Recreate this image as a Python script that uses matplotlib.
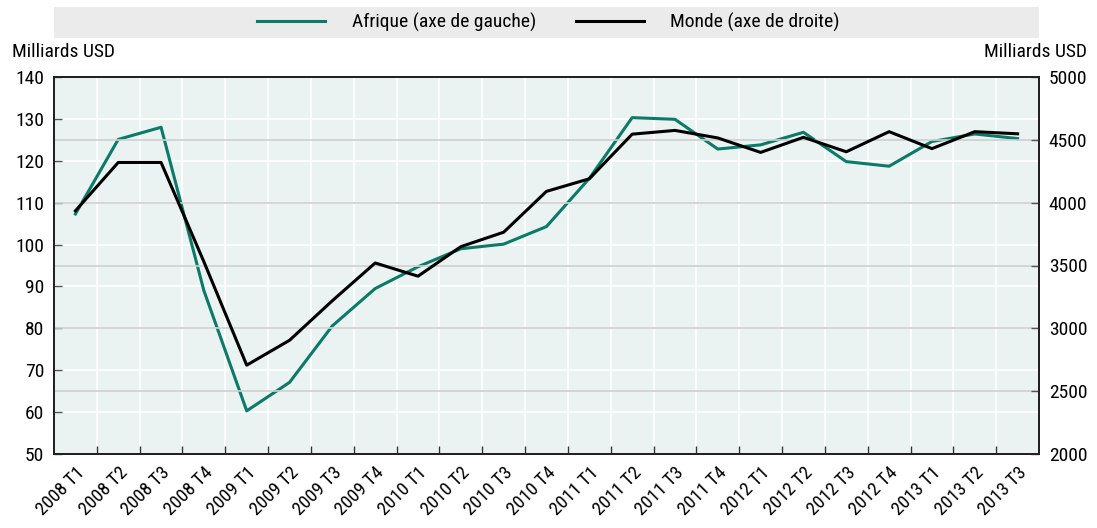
import matplotlib
matplotlib.use('Agg')
import matplotlib.pyplot as plt
from matplotlib.patches import Rectangle
import numpy as np

plt.rcParams['font.family'] = ['Liberation Sans Narrow', 'Roboto Condensed',
                               'Liberation Sans', 'DejaVu Sans']

quarters = ['2008 T1', '2008 T2', '2008 T3', '2008 T4',
            '2009 T1', '2009 T2', '2009 T3', '2009 T4',
            '2010 T1', '2010 T2', '2010 T3', '2010 T4',
            '2011 T1', '2011 T2', '2011 T3', '2011 T4',
            '2012 T1', '2012 T2', '2012 T3', '2012 T4',
            '2013 T1', '2013 T2', '2013 T3']
afrique = [107.3, 125.1, 128.0, 89.0, 60.3, 67.1, 80.6, 89.5, 94.7, 99.0, 100.1, 104.3,
           115.8, 130.3, 129.9, 122.8, 123.8, 126.8, 119.8, 118.7, 124.6, 126.4, 125.3]
monde = [3935, 4320, 4320, 3530, 2707, 2905, 3220, 3520, 3415, 3650, 3765, 4090,
         4190, 4545, 4575, 4515, 4400, 4520, 4405, 4565, 4430, 4565, 4548]

GREEN = '#0b7a68'
BG = '#eaf3f2'
W, H = 1097, 528
FS = 14

fig = plt.figure(figsize=(W / 100, H / 100), dpi=100)
ax = fig.add_axes([54 / W, 74 / H, (1039 - 54) / W, (454 - 77) / H])
ax2 = ax.twinx()
ax.set_facecolor(BG)

x = np.arange(len(quarters))
ax.set_xlim(-0.5, len(quarters) - 0.5)
ax.set_ylim(50, 140)
ax2.set_ylim(2000, 5000)
ax.set_yticks(np.arange(50, 141, 10))
ax2.set_yticks(np.arange(2000, 5001, 500))

# grids: white for left axis, grey for right axis, white verticals between quarters
for v in np.arange(60, 140, 10):
    ax.axhline(v, color='white', lw=1.2, zorder=0.5)
for v in np.arange(2500, 5000, 500):
    ax2.axhline(v, color='#cfcfcf', lw=1.2, zorder=0.6)
for b in np.arange(0.5, len(quarters) - 0.5, 1):
    ax.axvline(b, color='white', lw=1.2, zorder=0.5)

ax.plot(x, afrique, color=GREEN, lw=2.2, zorder=3, label='Afrique (axe de gauche)')
ax2.plot(x, monde, color='black', lw=2.2, zorder=3, label='Monde (axe de droite)')

ax.set_xticks(np.arange(0.5, len(quarters) - 0.5, 1), minor=False)
ax.set_xticklabels([])
ax.set_xticks(x, minor=True)
ax.set_xticklabels(quarters, minor=True, rotation=45, ha='right', va='top',
                   rotation_mode='anchor', fontsize=FS - 0.5)
ax.tick_params(axis='x', which='major', direction='in', length=6, width=1, color='#333333')
ax.tick_params(axis='x', which='minor', length=0, pad=7)
ax.tick_params(axis='y', direction='in', length=6, width=1, color='#555555', labelsize=FS, pad=7)
ax2.tick_params(axis='y', direction='in', length=6, width=1, color='#555555', labelsize=FS, pad=7)

for a in (ax, ax2):
    for s in a.spines.values():
        s.set_color('#222222')
        s.set_linewidth(1.4)

fig.text(12 / W, 1 - 52 / H, 'Milliards USD', fontsize=FS, va='center', ha='left')
fig.text(1087 / W, 1 - 52 / H, 'Milliards USD', fontsize=FS, va='center', ha='right')

# legend band
fig.patches.append(Rectangle((54 / W, 1 - 38 / H), (1039 - 54) / W, 31 / H,
                             transform=fig.transFigure, facecolor='#ebebeb',
                             edgecolor='none', zorder=0))
h1, l1 = ax.get_legend_handles_labels()
h2, l2 = ax2.get_legend_handles_labels()
fig.legend(h1 + h2, l1 + l2, loc='center', bbox_to_anchor=(0.5, 1 - 22.5 / H), ncol=2,
           frameon=False, fontsize=FS, handlelength=3.5, handletextpad=1.35,
           columnspacing=2.05)

fig.savefig('out.png', dpi=100)
